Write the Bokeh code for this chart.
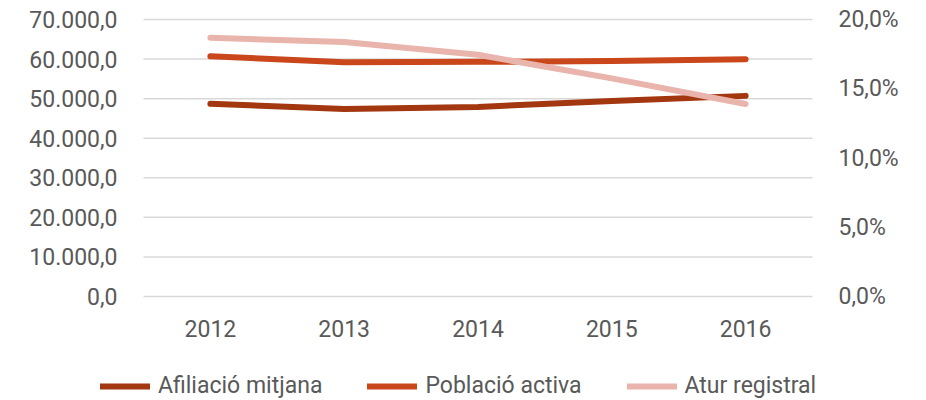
from bokeh.plotting import figure
from bokeh.models import Range1d, LinearAxis, FixedTicker, Legend, LegendItem
from bokeh.embed import file_html
from bokeh.resources import INLINE

years = [2012, 2013, 2014, 2015, 2016]
afiliacio = [48700, 47400, 47900, 49400, 50700]
poblacio = [60700, 59200, 59300, 59500, 59950]
atur = [0.1868, 0.1837, 0.1745, 0.1575, 0.1390]

left_ticks = [0, 10000, 20000, 30000, 40000, 50000, 60000, 70000]
left_labels = ["0,0", "10.000,0", "20.000,0", "30.000,0", "40.000,0", "50.000,0", "60.000,0", "70.000,0"]
right_ticks = [0.0, 0.05, 0.10, 0.15, 0.20]
right_labels = ["0,0%", "5,0%", "10,0%", "15,0%", "20,0%"]
year_labels = ["2012", "2013", "2014", "2015", "2016"]

series_names = ["Afiliació mitjana", "Població activa", "Atur registral"]
colors = ["#a3370f", "#c9471b", "#e9b4ab"]

FONT = "Roboto"
TXT = "#595959"
FS = "23px"

# page / plot-area geometry (pixels)
W, H = 926, 400
PL, PR, PT, PB = 143, 812, 19, 296

# data extent of the plot area
X_LO, X_HI = years[0] - 0.5, years[-1] + 0.5
Y_LO, Y_HI = left_ticks[0], left_ticks[-1]
R_LO, R_HI = right_ticks[0], right_ticks[-1]

xpp = (X_HI - X_LO) / (PR - PL)
ypp = (Y_HI - Y_LO) / (PB - PT)
rpp = (R_HI - R_LO) / (PB - PT)

p = figure(width=W, height=H, min_border=0,
           x_range=Range1d(X_LO - PL * xpp, X_HI + (W - PR) * xpp),
           y_range=Range1d(Y_LO - (H - PB) * ypp, Y_HI + PT * ypp),
           x_axis_type=None, y_axis_type=None,
           output_backend="svg", toolbar_location=None)
p.outline_line_color = None
p.extra_y_ranges = {"pct": Range1d(R_LO - (H - PB) * rpp, R_HI + PT * rpp)}

# horizontal grid lines across the plot area only
p.segment(x0=[X_LO] * len(left_ticks), y0=left_ticks, x1=[X_HI] * len(left_ticks), y1=left_ticks,
          line_color="#d9d9d9", line_width=1.5)

def style(ax):
    ax.axis_line_color = None
    ax.major_tick_line_color = None
    ax.minor_tick_line_color = None
    ax.major_label_text_font = FONT
    ax.major_label_text_font_size = FS
    ax.major_label_text_color = TXT

left = LinearAxis(fixed_location=X_LO, ticker=FixedTicker(ticks=left_ticks))
left.major_label_overrides = {t: l for t, l in zip(left_ticks, left_labels)}
left.major_label_standoff = 20
style(left)
p.add_layout(left, "left")

right = LinearAxis(y_range_name="pct", fixed_location=X_HI, ticker=FixedTicker(ticks=right_ticks))
right.major_label_overrides = {t: l for t, l in zip(right_ticks, right_labels)}
right.major_label_standoff = 20
style(right)
p.add_layout(right, "right")

bottom = LinearAxis(fixed_location=Y_LO, ticker=FixedTicker(ticks=years))
bottom.major_label_overrides = {t: l for t, l in zip(years, year_labels)}
bottom.major_label_standoff = 17
style(bottom)
p.add_layout(bottom, "below")

r1 = p.line(years, afiliacio, line_color=colors[0], line_width=6, line_cap="round", line_join="round")
r2 = p.line(years, poblacio, line_color=colors[1], line_width=6, line_cap="round", line_join="round")
r3 = p.line(years, atur, line_color=colors[2], line_width=6, line_cap="round", line_join="round", y_range_name="pct")

legend = Legend(items=[LegendItem(label=n, renderers=[r]) for n, r in zip(series_names, [r1, r2, r3])],
                orientation="horizontal", location=(100, 1),
                glyph_width=50, glyph_height=26, label_standoff=8, spacing=45,
                padding=0, margin=0, border_line_color=None, background_fill_alpha=0,
                label_text_font=FONT, label_text_font_size=FS, label_text_color=TXT)
p.add_layout(legend, "center")

open("out.html", "w").write(file_html(p, INLINE))
